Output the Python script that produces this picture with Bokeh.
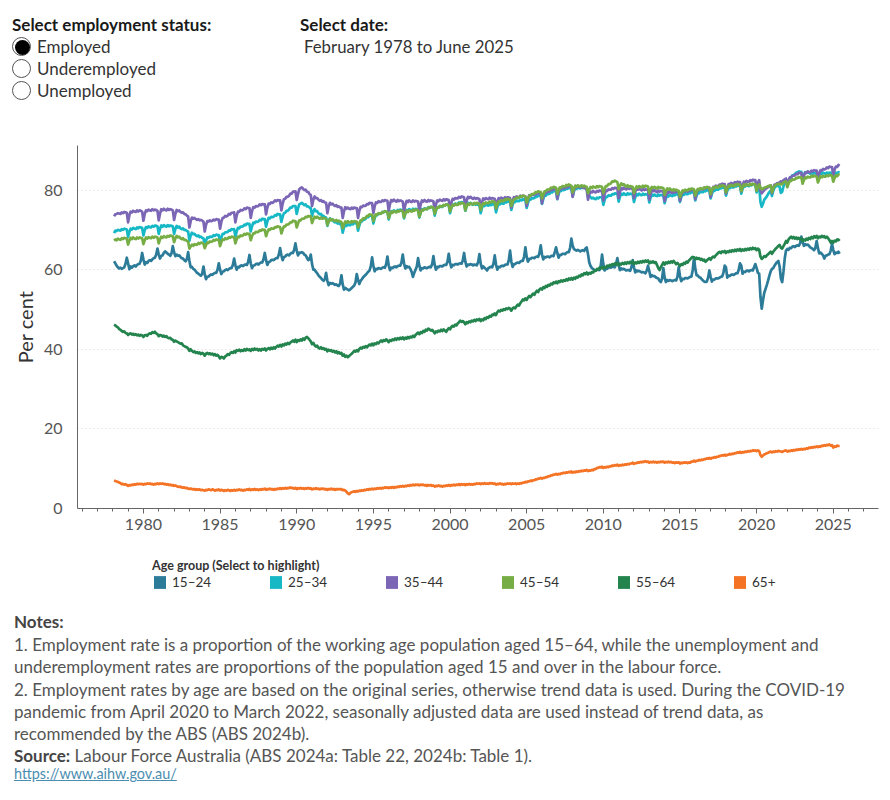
from bokeh.plotting import figure
from bokeh.models import (ColumnDataSource, FixedTicker, Legend, LegendItem,
                          Range1d, Div)
from bokeh.layouts import column
from bokeh.embed import file_html
from bokeh.resources import INLINE

FONT = "Lato"

# ---------------- data (monthly, Feb 1978 - Jun 2025, one row per year) -------------
age_groups = ["15–24", "25–34", "35–44", "45–54", "55–64", "65+"]
colors = ["#2b7b99", "#17b8c6", "#7b66b6", "#76ae45", "#23844e", "#f47325"]
first_year = 1978
first_month = 2

r15_24 = [
    [62.1, 61.6, 61.0, 60.6, 60.3, 60.5, 60.2, 60.4, 60.6, 61.5, 63.0],
    [61.6, 60.1, 60.8, 60.5, 60.9, 61.1, 60.8, 61.2, 61.4, 61.5, 62.3, 64.2],
    [62.6, 61.3, 61.9, 61.7, 62.2, 62.4, 62.2, 62.6, 62.9, 63.0, 63.8, 65.3],
    [63.8, 62.8, 63.5, 63.6, 64.2, 64.6, 64.3, 64.0, 63.8, 63.5, 64.1, 65.9],
    [64.4, 63.4, 63.8, 63.5, 63.6, 63.2, 62.9, 62.8, 62.4, 62.1, 62.6, 64.4],
    [62.2, 60.6, 60.7, 60.2, 60.0, 59.6, 59.2, 59.0, 58.7, 58.5, 59.0, 60.8],
    [58.9, 57.6, 58.2, 58.3, 58.6, 58.8, 58.7, 59.0, 59.2, 59.2, 60.0, 61.6],
    [60.0, 58.9, 59.5, 59.6, 59.9, 60.1, 59.9, 60.2, 60.4, 60.4, 61.2, 62.8],
    [61.1, 60.0, 60.7, 60.6, 61.0, 61.1, 60.9, 61.2, 61.3, 61.2, 62.0, 63.7],
    [61.6, 60.4, 61.0, 61.1, 61.4, 61.5, 61.3, 61.6, 61.8, 61.8, 62.6, 64.2],
    [62.4, 61.2, 61.9, 62.0, 62.4, 62.5, 62.4, 62.7, 62.9, 62.9, 63.8, 65.4],
    [63.6, 62.4, 63.2, 63.3, 63.7, 63.8, 63.6, 64.0, 64.2, 64.2, 65.0, 66.6],
    [64.8, 63.6, 64.3, 64.2, 64.4, 64.2, 63.8, 63.6, 63.0, 62.4, 62.6, 63.8],
    [61.4, 60.0, 60.0, 59.5, 59.1, 58.6, 58.2, 57.9, 57.5, 57.2, 57.6, 59.2],
    [57.2, 56.1, 56.7, 56.5, 56.6, 56.4, 56.2, 56.3, 56.0, 55.9, 56.6, 58.6],
    [56.3, 55.0, 55.4, 55.2, 55.0, 54.8, 55.1, 55.4, 55.7, 56.0, 56.8, 58.9],
    [57.4, 56.4, 57.2, 57.6, 58.1, 58.4, 58.7, 59.1, 59.5, 59.8, 60.9, 63.1],
    [61.0, 59.6, 60.2, 60.1, 60.4, 60.3, 60.2, 60.5, 60.6, 60.5, 61.4, 63.3],
    [61.1, 59.9, 60.5, 60.4, 60.7, 60.8, 60.6, 60.9, 61.0, 61.0, 61.8, 63.8],
    [61.6, 60.3, 60.9, 60.6, 60.7, 60.2, 59.4, 58.2, 59.2, 60.0, 60.8, 62.9],
    [61.0, 59.8, 60.4, 60.3, 60.6, 60.5, 60.4, 60.6, 60.7, 60.6, 61.4, 63.4],
    [61.2, 60.0, 60.7, 60.6, 60.9, 60.9, 60.8, 61.1, 61.2, 61.2, 62.0, 64.0],
    [61.8, 60.6, 61.2, 61.1, 61.4, 61.4, 61.3, 61.5, 61.6, 61.5, 62.3, 64.2],
    [62.0, 60.8, 61.3, 61.2, 61.4, 61.3, 61.1, 61.3, 61.2, 61.1, 61.9, 63.9],
    [61.6, 60.3, 60.8, 60.5, 60.2, 59.8, 60.4, 60.6, 60.7, 60.6, 61.5, 63.6],
    [61.3, 60.0, 60.7, 60.6, 60.9, 61.0, 60.9, 61.2, 61.3, 61.3, 62.4, 64.8],
    [62.0, 60.7, 61.4, 61.4, 61.7, 61.8, 61.7, 62.0, 62.2, 62.2, 63.3, 65.6],
    [63.2, 62.0, 62.7, 62.7, 63.0, 63.0, 62.9, 63.2, 63.3, 63.2, 64.2, 66.1],
    [63.8, 62.6, 63.2, 63.1, 63.3, 63.3, 63.1, 63.4, 63.5, 63.4, 64.4, 65.6],
    [64.2, 63.0, 63.7, 63.7, 64.0, 64.0, 63.9, 64.2, 64.4, 64.4, 65.5, 67.8],
    [66.0, 65.2, 65.0, 64.8, 65.0, 64.8, 64.6, 64.8, 64.9, 64.7, 65.3, 65.6],
    [63.9, 61.8, 60.9, 60.4, 60.2, 59.9, 59.8, 59.9, 60.0, 59.9, 61.0, 63.8],
    [61.4, 59.8, 60.3, 60.2, 60.5, 60.6, 60.5, 60.7, 60.8, 60.6, 61.5, 62.9],
    [61.2, 59.9, 60.3, 60.1, 60.2, 60.0, 59.8, 59.9, 59.9, 59.7, 60.6, 62.4],
    [60.6, 59.3, 59.8, 59.6, 59.7, 59.5, 59.3, 59.4, 59.3, 59.1, 59.8, 61.0],
    [59.6, 58.2, 58.6, 58.4, 58.4, 58.1, 57.9, 57.8, 57.2, 56.9, 57.8, 60.4],
    [58.0, 56.9, 57.4, 57.2, 57.4, 57.3, 57.1, 57.3, 57.4, 57.3, 58.2, 60.6],
    [58.4, 57.1, 57.7, 57.6, 57.9, 57.9, 57.8, 58.0, 58.2, 58.3, 60.0, 63.1],
    [60.2, 58.6, 58.5, 58.1, 58.0, 57.6, 57.3, 57.0, 56.9, 57.0, 58.0, 59.8],
    [58.2, 57.0, 57.5, 57.5, 57.8, 57.8, 57.8, 58.0, 58.2, 58.3, 59.2, 61.0],
    [60.6, 58.0, 58.5, 58.4, 58.7, 58.8, 58.7, 58.9, 59.1, 59.1, 60.0, 61.6],
    [61.0, 59.0, 59.5, 59.4, 59.7, 59.8, 59.6, 59.8, 59.9, 59.8, 60.6, 61.4],
    [60.4, 59.2, 59.0, 53.2, 50.2, 52.4, 54.2, 55.2, 56.2, 57.3, 58.5, 59.6],
    [60.2, 60.4, 61.0, 61.5, 61.9, 62.2, 60.8, 57.8, 56.9, 59.5, 62.8, 64.8],
    [65.2, 65.0, 65.5, 65.4, 65.8, 65.9, 65.7, 66.0, 66.1, 66.0, 66.6, 68.3],
    [67.0, 66.0, 66.4, 66.2, 66.3, 66.0, 65.6, 65.4, 65.2, 64.9, 65.5, 67.2],
    [65.4, 64.1, 64.3, 64.0, 63.6, 62.8, 63.5, 63.6, 63.8, 63.9, 64.8, 66.5],
    [65.0, 63.9, 64.3, 64.2, 64.5, 64.0],
]

r25_34 = [
    [69.2, 69.8, 69.7, 70.0, 69.9, 69.8, 70.2, 70.0, 70.3, 70.2, 70.1],
    [68.2, 69.5, 70.3, 70.1, 70.5, 70.3, 70.2, 70.6, 70.4, 70.7, 70.6, 70.5],
    [68.6, 69.9, 70.7, 70.5, 70.9, 70.7, 70.6, 71.0, 70.8, 71.1, 71.0, 70.9],
    [69.0, 70.3, 71.1, 70.8, 71.2, 70.9, 70.8, 71.2, 70.9, 71.1, 71.0, 70.9],
    [69.0, 70.2, 71.0, 70.6, 70.8, 70.4, 70.2, 70.4, 70.0, 70.0, 69.7, 69.6],
    [67.3, 68.6, 69.3, 68.9, 69.0, 68.6, 68.4, 68.6, 68.2, 68.3, 68.0, 67.9],
    [66.0, 67.3, 68.1, 68.0, 68.3, 68.2, 68.3, 68.7, 68.5, 68.8, 68.7, 68.7],
    [66.8, 68.1, 69.0, 69.0, 69.4, 69.4, 69.5, 69.9, 69.8, 70.2, 70.1, 70.2],
    [68.3, 69.6, 70.5, 70.4, 70.8, 70.8, 70.9, 71.3, 71.2, 71.6, 71.5, 71.5],
    [69.6, 70.9, 71.8, 71.7, 72.1, 72.0, 72.1, 72.5, 72.4, 72.8, 72.7, 72.7],
    [70.8, 72.1, 73.0, 72.9, 73.3, 73.2, 73.3, 73.7, 73.6, 74.0, 73.9, 73.9],
    [72.0, 73.3, 74.2, 74.3, 74.8, 74.8, 75.1, 75.6, 75.6, 76.0, 76.0, 76.0],
    [74.0, 75.4, 76.4, 76.6, 76.8, 76.5, 76.2, 76.4, 75.9, 75.9, 75.6, 75.5],
    [73.5, 74.6, 75.2, 74.7, 74.7, 74.2, 73.9, 74.0, 73.5, 73.5, 73.2, 73.1],
    [71.0, 72.2, 72.9, 72.5, 72.6, 72.1, 71.9, 72.1, 71.6, 71.7, 71.4, 71.3],
    [69.3, 70.6, 71.3, 71.0, 71.4, 71.2, 71.2, 71.6, 71.4, 71.8, 71.7, 71.7],
    [69.8, 71.1, 72.0, 72.1, 72.6, 72.6, 72.8, 73.3, 73.2, 73.6, 73.6, 73.6],
    [71.6, 72.9, 73.8, 73.7, 74.1, 74.0, 74.1, 74.5, 74.4, 74.7, 74.6, 74.6],
    [72.6, 73.9, 74.7, 74.5, 74.9, 74.7, 74.6, 75.0, 74.8, 75.1, 75.0, 74.9],
    [72.9, 74.2, 75.0, 74.8, 75.2, 75.0, 74.9, 75.3, 75.0, 75.3, 75.2, 75.1],
    [73.1, 74.4, 75.2, 75.0, 75.4, 75.3, 75.2, 75.7, 75.5, 75.8, 75.7, 75.6],
    [73.6, 74.9, 75.7, 75.6, 76.0, 75.8, 75.8, 76.2, 76.1, 76.4, 76.3, 76.2],
    [74.2, 75.5, 76.4, 76.2, 76.6, 76.5, 76.5, 76.9, 76.7, 77.0, 76.9, 76.8],
    [74.8, 76.0, 76.8, 76.5, 76.8, 76.5, 76.3, 76.6, 76.3, 76.5, 76.3, 76.2],
    [74.2, 75.5, 76.3, 76.0, 76.4, 76.2, 76.1, 76.5, 76.2, 76.5, 76.4, 76.3],
    [74.4, 75.7, 76.5, 76.4, 76.8, 76.6, 76.6, 77.0, 76.9, 77.2, 77.1, 77.0],
    [75.0, 76.3, 77.1, 77.0, 77.4, 77.2, 77.2, 77.6, 77.4, 77.7, 77.6, 77.5],
    [75.5, 76.8, 77.7, 77.6, 78.0, 77.9, 78.0, 78.4, 78.3, 78.6, 78.6, 78.5],
    [76.5, 77.8, 78.7, 78.6, 79.0, 79.0, 79.1, 79.5, 79.4, 79.8, 79.7, 79.7],
    [77.7, 79.0, 79.9, 79.8, 80.2, 80.0, 80.1, 80.5, 80.3, 80.6, 80.5, 80.5],
    [78.4, 79.7, 80.5, 80.3, 80.7, 80.5, 80.4, 80.8, 80.5, 80.7, 80.5, 80.4],
    [78.4, 78.6, 78.2, 77.9, 78.1, 77.8, 77.7, 78.1, 77.9, 78.2, 78.2, 78.2],
    [76.3, 77.5, 78.3, 78.3, 78.7, 78.6, 78.6, 79.0, 78.9, 79.2, 79.1, 79.1],
    [77.1, 78.3, 79.1, 78.8, 79.2, 78.9, 78.8, 79.2, 78.9, 79.1, 79.0, 78.9],
    [77.0, 78.2, 79.0, 78.7, 79.1, 78.8, 78.7, 79.1, 78.8, 79.0, 78.9, 78.8],
    [76.9, 78.1, 78.9, 78.6, 78.9, 78.6, 78.5, 78.9, 78.6, 78.8, 78.7, 78.6],
    [76.7, 77.9, 78.7, 78.4, 78.8, 78.6, 78.5, 78.9, 78.7, 79.0, 78.9, 78.8],
    [77.0, 78.2, 79.0, 78.8, 79.2, 79.0, 79.0, 79.4, 79.2, 79.5, 79.4, 79.3],
    [77.4, 78.6, 79.4, 79.2, 79.6, 79.5, 79.5, 79.9, 79.7, 80.0, 79.9, 79.8],
    [77.9, 79.1, 79.9, 79.8, 80.2, 80.1, 80.1, 80.5, 80.4, 80.7, 80.6, 80.6],
    [78.6, 79.8, 80.6, 80.5, 80.9, 80.7, 80.7, 81.1, 80.9, 81.2, 81.1, 81.0],
    [79.1, 80.3, 81.1, 80.9, 81.3, 81.1, 81.0, 81.4, 81.2, 81.5, 81.4, 81.3],
    [79.4, 80.6, 81.2, 77.0, 75.8, 76.6, 77.6, 78.0, 78.4, 79.0, 79.5, 79.9],
    [78.5, 79.8, 80.6, 80.9, 81.2, 81.0, 80.8, 79.3, 79.6, 80.9, 82.0, 82.5],
    [81.5, 82.4, 83.0, 83.2, 83.7, 83.8, 84.0, 84.4, 84.4, 84.7, 84.6, 84.6],
    [82.9, 83.8, 84.5, 84.3, 84.6, 84.3, 84.1, 84.4, 84.1, 84.3, 84.2, 84.1],
    [82.7, 83.6, 84.3, 84.1, 84.4, 84.2, 84.1, 84.4, 84.2, 84.4, 84.3, 84.3],
    [82.9, 83.8, 84.4, 84.2, 84.5, 84.4],
]

r35_44 = [
    [73.4, 73.9, 74.0, 74.2, 74.1, 74.0, 74.4, 74.2, 74.5, 74.4, 74.3],
    [71.9, 73.7, 74.6, 74.4, 74.8, 74.6, 74.5, 74.9, 74.6, 74.9, 74.8, 74.6],
    [72.3, 74.0, 74.9, 74.7, 75.1, 74.9, 74.8, 75.2, 74.9, 75.1, 75.0, 74.8],
    [72.4, 74.1, 75.2, 74.9, 75.3, 75.0, 74.9, 75.3, 75.0, 75.2, 75.1, 74.9],
    [72.5, 74.0, 75.0, 74.7, 74.9, 74.5, 74.3, 74.4, 74.0, 73.9, 73.6, 73.4],
    [70.6, 72.2, 73.1, 72.8, 73.0, 72.7, 72.5, 72.7, 72.4, 72.5, 72.3, 72.1],
    [69.6, 71.3, 72.2, 72.1, 72.4, 72.2, 72.3, 72.6, 72.4, 72.7, 72.6, 72.6],
    [70.3, 72.0, 73.0, 73.1, 73.5, 73.4, 73.6, 74.0, 73.9, 74.3, 74.3, 74.4],
    [71.9, 73.6, 74.6, 74.6, 75.0, 74.9, 75.0, 75.4, 75.2, 75.6, 75.5, 75.5],
    [73.0, 74.7, 75.7, 75.6, 76.0, 75.9, 76.0, 76.4, 76.2, 76.5, 76.4, 76.4],
    [73.9, 75.6, 76.6, 76.5, 76.9, 76.8, 77.0, 77.4, 77.2, 77.5, 77.4, 77.4],
    [74.9, 76.6, 77.7, 77.8, 78.3, 78.3, 78.6, 79.1, 79.1, 79.6, 79.6, 79.7],
    [77.5, 79.0, 80.2, 80.5, 80.7, 80.3, 80.0, 80.1, 79.6, 79.5, 79.0, 78.8],
    [76.0, 77.6, 78.4, 78.0, 78.0, 77.6, 77.3, 77.5, 77.1, 77.2, 76.9, 76.8],
    [74.2, 75.9, 76.8, 76.4, 76.6, 76.2, 76.0, 76.2, 75.8, 75.9, 75.6, 75.6],
    [73.0, 74.7, 75.7, 75.3, 75.6, 75.3, 75.2, 75.6, 75.3, 75.6, 75.5, 75.5],
    [73.0, 74.8, 75.8, 75.7, 76.1, 76.0, 76.1, 76.5, 76.4, 76.8, 76.7, 76.7],
    [74.2, 75.9, 76.9, 76.8, 77.2, 77.0, 77.0, 77.4, 77.2, 77.5, 77.4, 77.3],
    [74.8, 76.5, 77.5, 77.2, 77.6, 77.3, 77.1, 77.5, 77.2, 77.4, 77.3, 77.1],
    [74.6, 76.3, 77.3, 77.0, 77.4, 77.1, 77.0, 77.4, 77.1, 77.3, 77.2, 77.1],
    [74.7, 76.3, 77.4, 77.1, 77.5, 77.2, 77.1, 77.5, 77.2, 77.4, 77.3, 77.2],
    [74.8, 76.4, 77.4, 77.2, 77.6, 77.4, 77.3, 77.7, 77.4, 77.7, 77.6, 77.5],
    [75.0, 76.7, 77.8, 77.6, 78.0, 77.9, 77.9, 78.3, 78.1, 78.4, 78.3, 78.2],
    [75.7, 77.3, 78.3, 78.0, 78.3, 78.0, 77.8, 78.1, 77.8, 78.0, 77.9, 77.7],
    [75.3, 76.9, 77.9, 77.6, 78.0, 77.8, 77.7, 78.1, 77.8, 78.0, 77.9, 77.8],
    [75.4, 77.0, 78.0, 77.7, 78.1, 77.9, 77.8, 78.2, 77.9, 78.2, 78.1, 78.0],
    [75.6, 77.2, 78.2, 78.0, 78.4, 78.2, 78.2, 78.6, 78.3, 78.6, 78.5, 78.4],
    [76.0, 77.7, 78.7, 78.5, 78.9, 78.8, 78.8, 79.2, 79.0, 79.3, 79.2, 79.2],
    [76.7, 78.4, 79.4, 79.3, 79.7, 79.6, 79.7, 80.1, 80.0, 80.3, 80.2, 80.2],
    [77.8, 79.5, 80.5, 80.3, 80.7, 80.5, 80.5, 80.9, 80.7, 81.0, 80.9, 80.8],
    [78.3, 80.0, 81.0, 80.7, 81.1, 80.8, 80.7, 81.0, 80.6, 80.7, 80.4, 80.2],
    [77.6, 79.0, 79.6, 79.4, 79.8, 79.5, 79.4, 79.8, 79.6, 79.9, 79.8, 79.7],
    [77.4, 78.9, 79.9, 79.8, 80.2, 80.1, 80.1, 80.5, 80.3, 80.6, 80.5, 80.4],
    [78.0, 79.5, 80.5, 80.2, 80.6, 80.3, 80.2, 80.6, 80.3, 80.5, 80.4, 80.3],
    [78.0, 79.5, 80.4, 80.1, 80.4, 80.1, 79.9, 80.3, 80.0, 80.2, 80.1, 80.0],
    [77.6, 79.1, 80.0, 79.7, 80.0, 79.7, 79.5, 79.9, 79.6, 79.8, 79.7, 79.6],
    [77.2, 78.7, 79.6, 79.3, 79.7, 79.4, 79.3, 79.7, 79.4, 79.7, 79.6, 79.5],
    [77.3, 78.8, 79.7, 79.5, 79.9, 79.7, 79.6, 80.0, 79.8, 80.1, 80.0, 79.9],
    [77.7, 79.2, 80.1, 80.0, 80.4, 80.2, 80.2, 80.6, 80.4, 80.7, 80.6, 80.6],
    [78.3, 79.8, 80.8, 80.7, 81.1, 81.0, 81.0, 81.4, 81.3, 81.6, 81.5, 81.5],
    [79.1, 80.6, 81.5, 81.4, 81.8, 81.6, 81.6, 82.0, 81.8, 82.1, 82.0, 82.0],
    [79.7, 81.2, 82.1, 81.9, 82.3, 82.1, 82.1, 82.5, 82.3, 82.6, 82.5, 82.5],
    [80.2, 81.8, 82.5, 79.8, 79.2, 79.6, 80.0, 80.3, 80.5, 80.8, 81.0, 81.2],
    [79.2, 80.6, 81.4, 81.4, 81.7, 81.8, 81.9, 82.2, 82.0, 82.5, 82.7, 82.9],
    [80.9, 82.3, 83.2, 83.2, 83.6, 83.6, 83.7, 84.1, 84.0, 84.3, 84.3, 84.3],
    [82.1, 83.6, 84.4, 84.3, 84.7, 84.5, 84.5, 84.9, 84.7, 85.0, 84.9, 84.9],
    [82.8, 84.2, 85.0, 84.9, 85.3, 85.2, 85.3, 85.7, 85.5, 85.9, 85.8, 85.8],
    [83.8, 85.1, 85.9, 85.8, 86.3, 86.1],
]

r45_54 = [
    [67.3, 67.6, 67.4, 67.8, 67.6, 67.5, 67.9, 67.7, 68.0, 67.9, 67.8],
    [66.3, 67.3, 68.0, 67.7, 68.1, 67.8, 67.7, 68.1, 67.8, 68.1, 68.0, 67.9],
    [66.4, 67.4, 68.1, 67.8, 68.2, 68.0, 67.9, 68.3, 68.0, 68.3, 68.2, 68.1],
    [66.6, 67.6, 68.3, 68.0, 68.4, 68.2, 68.1, 68.5, 68.3, 68.6, 68.5, 68.4],
    [66.9, 67.9, 68.5, 68.1, 68.3, 67.9, 67.7, 67.9, 67.5, 67.5, 67.2, 67.1],
    [65.3, 65.8, 66.3, 66.0, 66.4, 66.3, 66.3, 66.7, 66.5, 66.8, 66.7, 66.6],
    [65.4, 66.2, 66.8, 66.7, 67.1, 67.0, 67.1, 67.5, 67.3, 67.6, 67.5, 67.5],
    [65.9, 66.9, 67.6, 67.5, 67.9, 67.7, 67.8, 68.2, 68.0, 68.3, 68.2, 68.2],
    [66.6, 67.6, 68.3, 68.2, 68.6, 68.5, 68.6, 69.0, 68.8, 69.1, 69.0, 69.0],
    [67.4, 68.4, 69.1, 69.1, 69.5, 69.4, 69.5, 69.9, 69.8, 70.1, 70.0, 70.0],
    [68.4, 69.4, 70.1, 70.0, 70.4, 70.3, 70.3, 70.7, 70.6, 70.9, 70.8, 70.7],
    [69.1, 70.1, 70.9, 70.9, 71.3, 71.3, 71.5, 71.9, 71.9, 72.3, 72.2, 72.2],
    [70.6, 71.6, 72.4, 72.4, 72.8, 72.8, 72.9, 73.3, 73.2, 73.5, 73.4, 73.4],
    [71.7, 72.6, 73.3, 73.0, 73.3, 73.0, 72.8, 73.1, 72.8, 73.0, 72.9, 72.8],
    [71.2, 72.1, 72.8, 72.4, 72.7, 72.4, 72.2, 72.5, 72.1, 72.3, 72.1, 72.0],
    [70.4, 71.4, 72.1, 71.8, 72.2, 71.9, 71.8, 72.2, 71.9, 72.2, 72.1, 72.1],
    [70.6, 71.6, 72.4, 72.4, 72.9, 72.9, 73.1, 73.5, 73.5, 73.9, 73.8, 73.8],
    [72.2, 73.2, 73.9, 73.8, 74.2, 74.1, 74.1, 74.5, 74.4, 74.7, 74.6, 74.5],
    [72.9, 73.9, 74.6, 74.3, 74.7, 74.5, 74.4, 74.8, 74.6, 74.9, 74.8, 74.7],
    [73.1, 74.1, 74.8, 74.5, 74.9, 74.7, 74.6, 75.0, 74.8, 75.1, 75.0, 74.9],
    [73.3, 74.3, 75.0, 74.9, 75.3, 75.2, 75.2, 75.6, 75.5, 75.8, 75.7, 75.6],
    [74.0, 75.0, 75.7, 75.6, 76.0, 75.9, 75.9, 76.3, 76.1, 76.4, 76.3, 76.2],
    [74.6, 75.6, 76.3, 76.1, 76.5, 76.3, 76.3, 76.7, 76.5, 76.8, 76.7, 76.5],
    [74.9, 75.9, 76.6, 76.3, 76.7, 76.5, 76.4, 76.8, 76.5, 76.8, 76.7, 76.6],
    [75.0, 76.0, 76.7, 76.5, 76.9, 76.7, 76.7, 77.1, 76.9, 77.2, 77.1, 77.0],
    [75.4, 76.4, 77.1, 77.0, 77.4, 77.2, 77.3, 77.7, 77.5, 77.8, 77.7, 77.6],
    [76.0, 77.0, 77.7, 77.7, 78.1, 78.0, 78.1, 78.5, 78.3, 78.6, 78.5, 78.4],
    [76.8, 77.8, 78.6, 78.6, 79.0, 79.0, 79.1, 79.5, 79.4, 79.7, 79.6, 79.5],
    [77.9, 78.9, 79.7, 79.7, 80.1, 80.1, 80.2, 80.6, 80.5, 80.8, 80.7, 80.6],
    [79.0, 80.0, 80.7, 80.6, 81.0, 80.9, 80.9, 81.3, 81.1, 81.4, 81.2, 81.1],
    [79.4, 80.4, 81.1, 80.8, 81.2, 81.0, 80.9, 81.2, 80.9, 81.1, 80.9, 80.8],
    [79.2, 80.2, 80.8, 80.5, 80.9, 80.7, 80.6, 81.0, 80.7, 81.0, 80.9, 80.8],
    [79.2, 80.2, 81.0, 81.0, 81.5, 81.5, 81.7, 82.2, 82.1, 82.4, 82.2, 82.0],
    [80.2, 81.1, 81.7, 81.3, 81.5, 81.1, 80.9, 81.2, 80.8, 81.0, 80.9, 80.8],
    [79.2, 80.2, 80.9, 80.6, 81.0, 80.8, 80.7, 81.1, 80.8, 81.1, 81.0, 80.9],
    [79.2, 80.2, 80.8, 80.5, 80.8, 80.6, 80.4, 80.8, 80.5, 80.7, 80.6, 80.5],
    [78.8, 79.8, 80.4, 80.1, 80.4, 80.1, 79.9, 80.2, 79.9, 80.1, 79.9, 79.8],
    [78.2, 79.2, 79.9, 79.7, 80.1, 79.9, 79.9, 80.3, 80.1, 80.4, 80.3, 80.2],
    [78.6, 79.6, 80.3, 80.1, 80.5, 80.3, 80.3, 80.7, 80.5, 80.8, 80.7, 80.6],
    [79.0, 80.0, 80.7, 80.5, 80.9, 80.7, 80.7, 81.1, 80.9, 81.2, 81.1, 81.0],
    [79.4, 80.4, 81.1, 80.9, 81.3, 81.1, 81.0, 81.4, 81.2, 81.5, 81.4, 81.3],
    [79.7, 80.7, 81.4, 81.1, 81.5, 81.3, 81.2, 81.6, 81.3, 81.6, 81.5, 81.4],
    [79.8, 80.8, 81.4, 80.5, 80.2, 80.4, 80.6, 80.7, 80.8, 81.0, 81.1, 81.2],
    [79.4, 80.4, 81.1, 81.2, 81.5, 81.5, 81.6, 81.4, 81.5, 81.9, 82.1, 82.2],
    [80.7, 81.6, 82.3, 82.3, 82.7, 82.6, 82.7, 83.1, 83.0, 83.3, 83.2, 83.2],
    [81.6, 82.5, 83.2, 83.0, 83.4, 83.2, 83.2, 83.6, 83.4, 83.6, 83.5, 83.4],
    [81.9, 82.8, 83.5, 83.2, 83.6, 83.4, 83.4, 83.7, 83.5, 83.8, 83.7, 83.6],
    [82.1, 83.0, 83.7, 83.5, 83.9, 83.8],
]

r55_64 = [
    [46.2, 46.0, 45.7, 45.5, 45.1, 44.9, 44.6, 44.4, 44.5, 44.1, 44.0],
    [43.6, 43.9, 44.0, 43.7, 43.9, 43.6, 43.8, 43.5, 43.7, 43.4, 43.6, 43.5],
    [43.1, 43.5, 43.6, 43.4, 43.8, 44.0, 43.9, 44.3, 44.1, 44.4, 44.0, 43.8],
    [43.3, 43.6, 43.5, 43.2, 43.4, 43.1, 43.3, 42.9, 42.8, 42.9, 42.5, 42.4],
    [41.9, 42.2, 42.0, 41.8, 41.6, 41.4, 41.5, 41.0, 40.8, 40.6, 40.5, 40.2],
    [39.6, 40.0, 39.6, 39.3, 39.5, 39.1, 39.3, 39.0, 39.2, 38.8, 39.1, 38.9],
    [38.4, 38.9, 39.1, 38.8, 39.0, 38.7, 38.9, 38.5, 38.8, 38.4, 38.6, 38.2],
    [37.7, 38.1, 38.0, 37.7, 38.2, 38.4, 38.8, 38.6, 39.0, 39.3, 39.1, 39.5],
    [39.2, 39.8, 39.6, 39.9, 39.5, 39.8, 39.6, 40.0, 39.7, 40.1, 39.8, 40.0],
    [39.6, 40.1, 39.8, 40.2, 39.9, 40.1, 39.7, 40.0, 39.7, 40.1, 39.9, 40.2],
    [39.7, 40.1, 40.3, 40.0, 40.4, 40.1, 40.5, 40.2, 40.6, 40.9, 40.7, 41.1],
    [40.7, 41.2, 41.0, 41.4, 41.2, 41.6, 41.3, 41.7, 41.9, 42.2, 41.9, 42.4],
    [41.8, 42.3, 42.1, 42.5, 42.2, 42.7, 42.4, 42.9, 43.1, 42.8, 42.4, 42.0],
    [41.3, 41.6, 41.0, 40.7, 40.9, 40.4, 40.2, 40.5, 40.1, 40.3, 39.9, 40.1],
    [39.5, 39.9, 39.6, 39.8, 39.4, 39.6, 39.2, 39.5, 39.0, 39.3, 38.9, 39.1],
    [38.4, 38.7, 38.1, 38.4, 38.0, 38.3, 38.6, 38.9, 39.2, 39.6, 39.4, 39.8],
    [39.5, 40.1, 40.4, 40.2, 40.6, 40.4, 40.8, 40.5, 40.9, 41.2, 41.0, 41.4],
    [41.0, 41.5, 41.3, 41.7, 41.5, 41.9, 42.2, 41.9, 42.3, 42.1, 42.5, 42.2],
    [41.8, 42.3, 42.1, 42.5, 42.3, 42.7, 42.4, 42.8, 42.5, 42.9, 42.6, 43.0],
    [42.5, 42.9, 42.7, 43.1, 42.8, 43.2, 43.0, 43.4, 43.1, 43.6, 43.9, 44.2],
    [43.8, 44.3, 44.1, 44.6, 44.4, 44.9, 44.7, 45.2, 45.0, 44.7, 44.9, 44.5],
    [44.0, 44.5, 44.3, 44.7, 44.5, 44.9, 44.6, 45.0, 44.7, 44.4, 44.9, 45.3],
    [45.0, 45.6, 45.9, 45.7, 46.2, 46.0, 46.5, 46.8, 47.2, 46.9, 47.1, 46.8],
    [46.3, 46.8, 46.6, 47.0, 46.8, 47.2, 47.0, 47.4, 47.1, 47.5, 47.3, 47.6],
    [47.1, 47.5, 47.3, 47.8, 47.6, 48.1, 47.9, 48.4, 48.2, 48.7, 48.6, 49.0],
    [48.6, 49.3, 49.7, 49.5, 49.9, 49.7, 50.1, 49.9, 50.3, 50.1, 50.4, 50.2],
    [49.7, 50.3, 50.5, 50.3, 50.8, 51.2, 51.0, 51.6, 52.0, 52.5, 52.3, 52.8],
    [52.4, 53.0, 53.4, 53.1, 53.6, 54.0, 53.7, 54.3, 54.7, 54.4, 55.0, 55.3],
    [55.0, 55.6, 55.4, 55.9, 55.7, 56.2, 56.0, 56.5, 56.3, 56.8, 56.6, 57.0],
    [56.6, 57.1, 56.9, 57.3, 57.0, 57.4, 57.2, 57.6, 57.3, 57.8, 57.5, 57.9],
    [57.5, 58.0, 57.7, 58.2, 58.0, 58.5, 58.3, 58.8, 58.6, 59.1, 58.9, 59.3],
    [58.8, 59.2, 59.0, 59.4, 59.3, 59.8, 59.7, 60.2, 60.0, 60.5, 60.3, 60.7],
    [60.2, 60.7, 60.5, 61.0, 60.8, 61.2, 61.0, 61.4, 61.2, 61.6, 61.3, 61.7],
    [61.1, 61.5, 61.3, 61.7, 61.4, 61.8, 61.5, 61.9, 61.6, 62.0, 61.7, 62.1],
    [61.4, 61.8, 61.6, 62.0, 61.7, 62.1, 61.8, 62.2, 61.9, 62.3, 62.0, 62.3],
    [61.6, 62.0, 61.8, 62.1, 61.7, 61.9, 61.2, 60.4, 59.9, 60.6, 61.2, 61.8],
    [61.3, 61.8, 61.6, 62.0, 61.7, 62.1, 61.8, 62.2, 61.8, 61.4, 61.7, 61.3],
    [60.9, 61.4, 61.2, 61.7, 61.5, 62.0, 61.8, 62.3, 62.6, 63.0, 63.2, 63.1],
    [62.6, 63.0, 62.7, 62.9, 62.5, 62.7, 62.3, 62.5, 62.0, 62.3, 62.6, 62.9],
    [62.5, 63.0, 63.3, 63.1, 63.6, 63.9, 64.3, 64.5, 64.2, 64.6, 64.4, 64.7],
    [64.2, 64.6, 64.4, 64.8, 64.5, 64.9, 64.6, 65.0, 64.7, 65.1, 64.8, 65.2],
    [64.7, 65.1, 64.8, 65.2, 64.9, 65.3, 65.0, 65.4, 65.1, 65.5, 65.2, 65.4],
    [64.9, 65.3, 65.0, 63.3, 62.7, 63.0, 63.4, 63.2, 63.6, 63.9, 64.2, 64.5],
    [64.0, 64.5, 64.9, 65.3, 65.6, 66.0, 66.2, 65.5, 65.3, 65.9, 66.5, 67.2],
    [66.8, 67.6, 68.0, 68.3, 67.9, 68.2, 67.8, 68.1, 67.7, 68.0, 67.6, 67.9],
    [67.2, 67.6, 67.3, 67.8, 67.5, 68.0, 67.7, 68.2, 67.9, 68.4, 68.1, 68.5],
    [67.9, 68.3, 68.1, 68.5, 68.2, 68.4, 68.0, 68.3, 67.9, 67.4, 66.8, 67.2],
    [66.8, 67.3, 67.1, 67.6, 67.4, 67.7],
]

r65_plus = [
    [7.0, 6.9, 6.8, 6.7, 6.5, 6.4, 6.1, 6.2, 6.0, 6.1, 5.9],
    [5.7, 5.9, 5.8, 6.0, 5.9, 6.1, 6.0, 6.2, 6.1, 6.2, 6.1, 6.2],
    [6.0, 6.2, 6.1, 6.3, 6.2, 6.3, 6.1, 6.2, 6.0, 6.2, 6.1, 6.3],
    [6.1, 6.3, 6.2, 6.3, 6.1, 6.2, 6.0, 6.1, 5.9, 6.0, 5.8, 5.9],
    [5.7, 5.8, 5.6, 5.5, 5.4, 5.5, 5.3, 5.2, 5.3, 5.1, 5.2, 5.0],
    [4.9, 5.0, 4.9, 4.8, 4.9, 4.7, 4.8, 4.7, 4.8, 4.6, 4.7, 4.6],
    [4.5, 4.7, 4.6, 4.8, 4.7, 4.6, 4.8, 4.7, 4.5, 4.7, 4.6, 4.8],
    [4.5, 4.7, 4.6, 4.4, 4.6, 4.5, 4.7, 4.6, 4.4, 4.6, 4.5, 4.7],
    [4.5, 4.7, 4.6, 4.8, 4.6, 4.7, 4.5, 4.7, 4.6, 4.8, 4.7, 4.9],
    [4.6, 4.8, 4.7, 4.9, 4.7, 4.8, 4.6, 4.8, 4.7, 4.9, 4.8, 5.0],
    [4.7, 4.9, 4.8, 5.0, 4.8, 4.9, 4.7, 4.9, 4.8, 5.0, 4.9, 5.1],
    [4.9, 5.1, 5.0, 5.2, 5.0, 5.2, 5.1, 5.3, 5.1, 5.2, 5.0, 5.2],
    [4.9, 5.1, 5.0, 5.2, 5.0, 5.1, 4.9, 5.1, 5.0, 5.2, 5.0, 5.1],
    [4.8, 5.0, 4.9, 5.1, 4.9, 5.0, 4.8, 5.0, 4.9, 5.0, 4.8, 4.9],
    [4.7, 4.9, 4.8, 5.0, 4.8, 4.9, 4.7, 4.9, 4.8, 4.9, 4.8, 4.9],
    [4.6, 4.7, 4.5, 4.2, 3.8, 3.6, 3.9, 4.1, 4.2, 4.3, 4.2, 4.4],
    [4.3, 4.5, 4.4, 4.6, 4.5, 4.7, 4.6, 4.8, 4.7, 4.9, 4.8, 5.0],
    [4.8, 5.0, 4.9, 5.1, 5.0, 5.2, 5.0, 5.2, 5.1, 5.3, 5.2, 5.3],
    [5.1, 5.3, 5.2, 5.4, 5.2, 5.4, 5.3, 5.5, 5.4, 5.6, 5.5, 5.7],
    [5.5, 5.7, 5.6, 5.8, 5.7, 5.9, 5.8, 6.0, 5.8, 6.0, 5.9, 6.0],
    [5.8, 6.0, 5.9, 6.0, 5.8, 5.9, 5.7, 5.9, 5.8, 5.9, 5.7, 5.8],
    [5.5, 5.7, 5.6, 5.8, 5.6, 5.7, 5.5, 5.7, 5.6, 5.8, 5.7, 5.9],
    [5.7, 5.9, 5.8, 6.0, 5.8, 6.0, 5.9, 6.1, 5.9, 6.1, 6.0, 6.1],
    [5.9, 6.1, 6.0, 6.2, 6.0, 6.1, 6.0, 6.2, 6.1, 6.3, 6.2, 6.3],
    [6.1, 6.3, 6.2, 6.4, 6.2, 6.3, 6.2, 6.4, 6.3, 6.4, 6.2, 6.3],
    [6.0, 6.2, 6.1, 6.3, 6.1, 6.2, 6.0, 6.2, 6.1, 6.3, 6.2, 6.3],
    [6.1, 6.3, 6.2, 6.3, 6.1, 6.3, 6.2, 6.4, 6.3, 6.5, 6.5, 6.7],
    [6.6, 6.8, 6.8, 7.0, 6.9, 7.1, 7.1, 7.3, 7.3, 7.5, 7.5, 7.7],
    [7.5, 7.7, 7.7, 7.9, 7.9, 8.1, 8.1, 8.3, 8.3, 8.5, 8.5, 8.7],
    [8.5, 8.7, 8.6, 8.8, 8.8, 9.0, 8.9, 9.1, 9.0, 9.2, 9.1, 9.3],
    [9.0, 9.2, 9.1, 9.3, 9.2, 9.4, 9.3, 9.5, 9.4, 9.6, 9.5, 9.7],
    [9.4, 9.6, 9.5, 9.7, 9.6, 9.9, 9.9, 10.2, 10.2, 10.4, 10.3, 10.5],
    [10.2, 10.4, 10.3, 10.5, 10.4, 10.6, 10.6, 10.8, 10.7, 10.9, 10.8, 11.0],
    [10.7, 10.9, 10.8, 11.0, 10.9, 11.1, 11.0, 11.2, 11.1, 11.3, 11.3, 11.5],
    [11.2, 11.4, 11.4, 11.6, 11.5, 11.7, 11.6, 11.8, 11.7, 11.9, 11.7, 11.8],
    [11.5, 11.7, 11.6, 11.8, 11.6, 11.7, 11.5, 11.7, 11.6, 11.8, 11.7, 11.8],
    [11.5, 11.7, 11.6, 11.8, 11.6, 11.7, 11.5, 11.6, 11.4, 11.6, 11.5, 11.6],
    [11.3, 11.5, 11.4, 11.6, 11.5, 11.6, 11.4, 11.6, 11.5, 11.8, 11.8, 12.0],
    [11.8, 12.0, 12.0, 12.2, 12.1, 12.3, 12.2, 12.4, 12.4, 12.6, 12.5, 12.7],
    [12.5, 12.7, 12.7, 12.9, 12.8, 13.0, 13.0, 13.2, 13.2, 13.4, 13.3, 13.5],
    [13.3, 13.5, 13.5, 13.7, 13.6, 13.8, 13.7, 13.9, 13.9, 14.1, 14.0, 14.2],
    [14.0, 14.2, 14.1, 14.3, 14.2, 14.4, 14.3, 14.5, 14.4, 14.6, 14.5, 14.6],
    [14.4, 14.6, 14.4, 13.4, 13.0, 13.3, 13.6, 13.7, 13.9, 14.0, 14.2, 14.3],
    [14.1, 14.3, 14.2, 14.4, 14.3, 14.5, 14.4, 14.3, 14.2, 14.4, 14.5, 14.6],
    [14.3, 14.5, 14.4, 14.6, 14.5, 14.7, 14.6, 14.8, 14.7, 14.9, 14.8, 15.0],
    [14.8, 15.0, 14.9, 15.1, 15.0, 15.3, 15.2, 15.4, 15.3, 15.5, 15.4, 15.6],
    [15.4, 15.6, 15.5, 15.8, 15.7, 15.9, 15.8, 16.0, 15.9, 16.1, 15.8, 15.9],
    [15.3, 15.6, 15.5, 15.8, 15.7, 15.7],
]

year_ticks = [1980, 1985, 1990, 1995, 2000, 2005, 2010, 2015, 2020, 2025]
year_minor = list(range(1976, 2028))
pct_ticks = [0, 20, 40, 60, 80]

series = [r15_24, r25_34, r35_44, r45_54, r55_64, r65_plus]


def to_xy(rows):
    xs, ys = [], []
    for i, row in enumerate(rows):
        yr = first_year + i
        m0 = first_month if i == 0 else 1
        for j, v in enumerate(row):
            xs.append(yr + (m0 - 1 + j) / 12.0)
            ys.append(v)
    return xs, ys


# ---------------- header ----------------
def radio(cy, filled):
    inner = ""
    if filled:
        inner = ('<div style="position:absolute;left:2px;top:2px;width:15px;height:15px;'
                 'border-radius:50%;background:#000;"></div>')
    return ('<div style="position:absolute;left:12px;top:%dpx;width:19px;height:19px;'
            'border:1px solid #555;border-radius:50%%;background:#fff;">%s</div>' % (cy - 10, inner))


def txt(left, cy, text, size, weight="normal", color="#333"):
    return ('<div style="position:absolute;left:%dpx;top:%dpx;line-height:22px;height:22px;'
            'white-space:nowrap;font-size:%s;font-weight:%s;color:%s;">%s</div>'
            % (left, cy - 11, size, weight, color, text))


header_html = (
    '<div style="position:relative;width:890px;height:130px;font-family:Lato,sans-serif;">'
    + txt(12, 25, "Select employment status:", "17px", "bold", "#1a1a1a")
    + radio(47, True) + txt(37, 47, "Employed", "17px", "normal", "#333")
    + radio(69, False) + txt(37, 69, "Underemployed", "17px", "normal", "#333")
    + radio(91, False) + txt(37, 91, "Unemployed", "17px", "normal", "#333")
    + txt(300, 25, "Select date:", "17px", "bold", "#1a1a1a")
    + txt(304, 47, "February 1978 to June 2025", "16.8px", "normal", "#333")
    + '</div>'
)
header = Div(text=header_html, width=890, height=130, margin=(0, 0, 0, 0))

# ---------------- chart ----------------
p = figure(width=890, height=415, output_backend="svg", toolbar_location=None,
           x_range=Range1d(1975.7, 2027.95), y_range=Range1d(0, 91.2),
           min_border_left=77, min_border_right=12, min_border_top=15,
           min_border_bottom=37, background_fill_color="white",
           border_fill_color="white")
p.outline_line_color = None

for name, col, rows in zip(age_groups, colors, series):
    xs, ys = to_xy(rows)
    src = ColumnDataSource(data=dict(x=xs, y=ys))
    p.line("x", "y", source=src, line_color=col, line_width=2.7, line_join="round")

# axes
p.xaxis.ticker = FixedTicker(ticks=year_ticks, minor_ticks=year_minor)
p.xaxis.axis_line_color = "#666666"
p.xaxis.major_tick_line_color = "#666666"
p.xaxis.minor_tick_line_color = "#666666"
p.xaxis.major_tick_out = 5
p.xaxis.major_tick_in = 0
p.xaxis.minor_tick_out = 3
p.xaxis.minor_tick_in = 0
p.xaxis.major_label_text_font = FONT
p.xaxis.major_label_text_font_size = "16px"
p.xaxis.major_label_text_color = "#555555"
p.xaxis.major_label_standoff = 5

p.yaxis.ticker = FixedTicker(ticks=pct_ticks)
p.yaxis.axis_line_color = "#666666"
p.yaxis.major_tick_line_color = None
p.yaxis.minor_tick_line_color = None
p.yaxis.major_label_text_font = FONT
p.yaxis.major_label_text_font_size = "16px"
p.yaxis.major_label_text_color = "#555555"
p.yaxis.major_label_standoff = 9
p.yaxis.axis_label = "Per cent"
p.yaxis.axis_label_text_font = FONT
p.yaxis.axis_label_text_font_size = "20px"
p.yaxis.axis_label_text_font_style = "normal"
p.yaxis.axis_label_text_color = "#333333"
p.yaxis.axis_label_standoff = 4

p.xgrid.grid_line_color = None
p.ygrid.grid_line_color = "#d6d6d6"
p.ygrid.grid_line_dash = "1 3"
p.ygrid.grid_line_width = 1

# ---------------- legend strip ----------------
lg = figure(width=890, height=55, output_backend="svg", toolbar_location=None,
            x_range=Range1d(0, 1), y_range=Range1d(0, 1),
            x_axis_type=None, y_axis_type=None,
            min_border_left=0, min_border_right=0, min_border_top=0,
            min_border_bottom=0, background_fill_color="white",
            border_fill_color="white")
lg.outline_line_color = None
lg.xgrid.visible = False
lg.ygrid.visible = False

nan = float("nan")
legend_items = []
for name, col in zip(age_groups, colors):
    # legend swatch only: a NaN box draws nothing in the plot area
    q = lg.quad(left=[nan], right=[nan], top=[nan], bottom=[nan],
                fill_color=col, line_color=None)
    legend_items.append(LegendItem(label=name, renderers=[q]))

legend = Legend(items=legend_items, orientation="horizontal", location=(75, 10),
                title="Age group (Select to highlight)",
                title_text_font=FONT, title_text_font_size="12.5px",
                title_text_font_style="bold", title_text_color="#333333",
                title_standoff=1,
                label_text_font=FONT, label_text_font_size="13.5px",
                label_text_color="#333333",
                glyph_width=15, glyph_height=16, label_standoff=5,
                label_width=96, spacing=0, padding=0, margin=0,
                border_line_color=None, background_fill_alpha=0)
lg.add_layout(legend)

# ---------------- notes ----------------
NS = "17px"
note_lines = [
    (22, "Notes:", NS, "bold", "#444"),
    (45, "1. Employment rate is a proportion of the working age population aged 15–64, while the unemployment and", NS, "normal", "#555"),
    (67, "underemployment rates are proportions of the population aged 15 and over in the labour force.", NS, "normal", "#555"),
    (90, "2. Employment rates by age are based on the original series, otherwise trend data is used. During the COVID-19", NS, "normal", "#555"),
    (112, "pandemic from April 2020 to March 2022, seasonally adjusted data are used instead of trend data, as", NS, "normal", "#555"),
    (134, "recommended by the ABS (ABS 2024b).", NS, "normal", "#555"),
    (156, "<b style='color:#444'>Source:</b> Labour Force Australia (ABS 2024a: Table 22, 2024b: Table 1).", NS, "normal", "#555"),
]
notes_html = '<div style="position:relative;width:890px;height:200px;font-family:Lato,sans-serif;">'
for cy, t, s, w, c in note_lines:
    notes_html += txt(14, cy, t, s, w, c)
notes_html += ('<div style="position:absolute;left:14px;top:165px;line-height:18px;'
               'font-size:14.4px;color:#4b8db0;text-decoration:underline;white-space:nowrap;">'
               'https://www.aihw.gov.au/</div>')
notes_html += '</div>'
notes = Div(text=notes_html, width=890, height=200, margin=(0, 0, 0, 0))

layout = column(header, p, lg, notes, spacing=0)
open("out.html", "w").write(file_html(layout, INLINE))
